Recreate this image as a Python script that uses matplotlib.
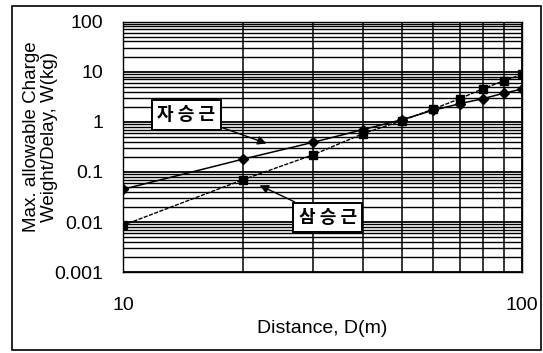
import numpy as np
import matplotlib.pyplot as plt
from matplotlib.patches import Rectangle
from matplotlib.ticker import LogLocator, FixedLocator, NullFormatter

plt.rcParams['font.family'] = ['Liberation Sans', 'DejaVu Sans']

# data
D = [10, 20, 30, 40, 50, 60, 70, 80, 90, 100]
w_sq = [0.045, 0.18, 0.39, 0.70, 1.1, 1.7, 2.3, 2.9, 3.7, 4.5]      # 자승근
w_cube = [0.0086, 0.07, 0.22, 0.58, 1.05, 1.8, 2.9, 4.6, 6.5, 8.8]  # 삼승근
ytick_vals = [0.001, 0.01, 0.1, 1, 10, 100]
ytick_labels = ['0.001', '0.01', '0.1', '1', '10', '100']
xtick_vals = [10, 100]
xtick_labels = ['10', '100']

fig = plt.figure(figsize=(5.43, 3.53), dpi=100)
ax = fig.add_axes([0.2265, 0.229, 0.7345, 0.71])

ax.plot(D, w_sq, '-', color='black', lw=1.1, marker='D', ms=5, zorder=5)
ax.plot(D, w_cube, color='black', lw=1.0, ls=(0, (3, 1)), marker='s', ms=5.5, zorder=5)

ax.set_xscale('log')
ax.set_yscale('log')
ax.set_xlim(10, 100)
ax.set_ylim(0.001, 100)

ax.set_yticks(ytick_vals)
ax.set_yticklabels(ytick_labels)
ax.set_xticks(xtick_vals)
ax.set_xticklabels(xtick_labels)
ax.yaxis.set_minor_locator(LogLocator(base=10, subs=np.arange(2, 10)))
ax.xaxis.set_minor_locator(FixedLocator([20, 30, 40, 50, 60, 70, 80, 90]))
ax.xaxis.set_minor_formatter(NullFormatter())
ax.yaxis.set_minor_formatter(NullFormatter())
ax.tick_params(which='both', length=0, labelsize=14)
ax.tick_params(axis='x', pad=18)
ax.tick_params(axis='y', pad=14)

ax.grid(which='major', color='black', lw=1.3)
ax.grid(which='minor', axis='y', color='black', lw=1.0)
ax.grid(which='minor', axis='x', color='black', lw=1.1)
for s in ax.spines.values():
    s.set_linewidth(1.0)

ax.set_xlabel('Distance, D(m)', fontsize=14, labelpad=4)
ax.set_ylabel('Max. allowable Charge\nWeight/Delay, W(kg)', fontsize=13.5, linespacing=1.05)
ax.yaxis.set_label_coords(-0.163, 0.54)

box = dict(boxstyle='square,pad=0.3', fc='white', ec='black', lw=1.4)
kor = ['Noto Sans CJK KR', 'DejaVu Sans']
arrow = dict(arrowstyle='-|>', color='black', lw=1.0, mutation_scale=13, shrinkA=0, shrinkB=0)
ax.annotate('자 승 근', xy=(22.9, 0.37), xytext=(14.4, 1.38), ha='center', va='center',
            fontsize=13, fontweight='bold', family=kor, bbox=box, zorder=6, arrowprops=arrow)
ax.annotate('삼 승 근', xy=(22.0, 0.054), xytext=(32.6, 0.0123), ha='center', va='center',
            fontsize=13, fontweight='bold', family=kor, bbox=box, zorder=6, arrowprops=arrow)

# outer frame
fig.patches.append(Rectangle((12 / 543, 1 - 350 / 353), 529 / 543, 344 / 353,
                             transform=fig.transFigure, fill=False, ec='black', lw=1.2))

fig.savefig('out.png', dpi=100)
